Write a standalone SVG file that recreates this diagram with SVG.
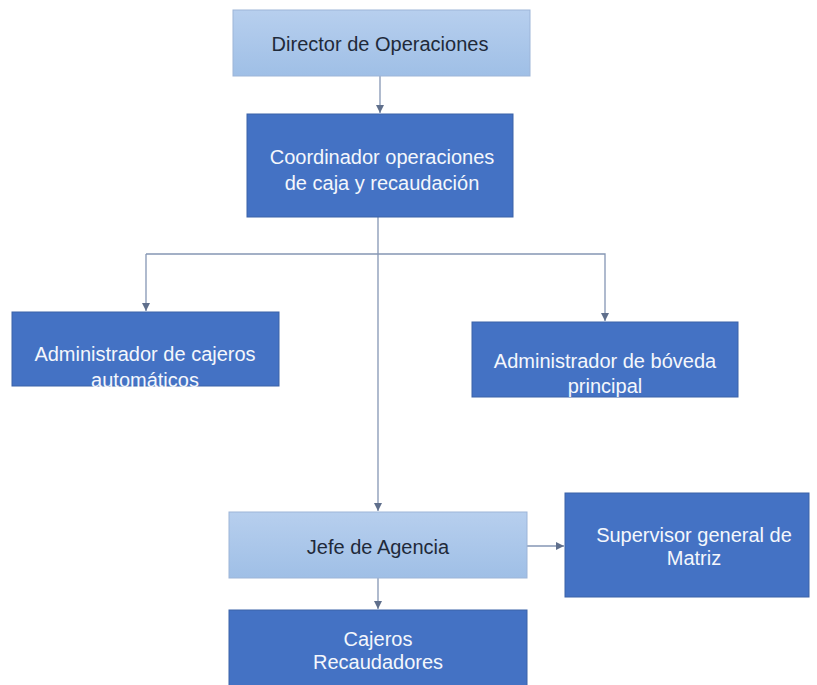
<svg xmlns="http://www.w3.org/2000/svg" width="817" height="685" viewBox="0 0 817 685">
<style>
.dark{fill:#4472C4;stroke:#3B62A8;stroke-width:1}
.light{fill:url(#lg);stroke:#9DB5D8;stroke-width:1}
text{font-family:"Liberation Sans",Arial,sans-serif;font-size:20px;text-anchor:middle}
.w{fill:#F4F7FC}
.k{fill:#1F2A3A}
.c{fill:none;stroke:#8596B4;stroke-width:1.3}
</style>
<defs>
<linearGradient id="lg" x1="0" y1="0" x2="0" y2="1">
<stop offset="0" stop-color="#B7CFEE"/>
<stop offset="1" stop-color="#9FBFE6"/>
</linearGradient>
<marker id="ah" markerWidth="10" markerHeight="10" refX="9" refY="5" orient="auto" markerUnits="userSpaceOnUse">
<path d="M1,1 L9,5 L1,9 Z" fill="#5F6F8C"/>
</marker>
</defs>
<g id="connectors">
<line class="c" x1="380" y1="76" x2="380" y2="113" marker-end="url(#ah)"/>
<line class="c" x1="378" y1="217" x2="378" y2="511" marker-end="url(#ah)"/>
<polyline class="c" points="146,254 605,254 605,321" marker-end="url(#ah)"/>
<line class="c" x1="146" y1="254" x2="146" y2="311" marker-end="url(#ah)"/>
<line class="c" x1="527" y1="546" x2="564" y2="546" marker-end="url(#ah)"/>
<line class="c" x1="378" y1="578" x2="378" y2="609" marker-end="url(#ah)"/>
</g>
<g id="director">
<rect class="light" x="233" y="10" width="297" height="66"/>
<text class="k" x="380" y="51">Director de Operaciones</text>
</g>
<g id="coordinador">
<rect class="dark" x="247" y="114" width="266" height="103"/>
<text class="w" x="382" y="164">Coordinador operaciones</text>
<text class="w" x="382" y="190">de caja y recaudación</text>
</g>
<g id="admin-cajeros">
<rect class="dark" x="12" y="312" width="267" height="74"/>
<text class="w" x="145" y="361">Administrador  de cajeros</text>
<text class="w" x="145" y="387">automáticos</text>
</g>
<g id="admin-boveda">
<rect class="dark" x="472" y="322" width="266" height="75"/>
<text class="w" x="605" y="368">Administrador  de bóveda</text>
<text class="w" x="605" y="393">principal</text>
</g>
<g id="jefe">
<rect class="light" x="229" y="512" width="298" height="66"/>
<text class="k" x="378" y="554">Jefe de Agencia</text>
</g>
<g id="supervisor">
<rect class="dark" x="565" y="493" width="244" height="104"/>
<text class="w" x="694" y="542">Supervisor general de</text>
<text class="w" x="694" y="565">Matriz</text>
</g>
<g id="cajeros">
<rect class="dark" x="229" y="610" width="298" height="80"/>
<text class="w" x="378" y="646">Cajeros</text>
<text class="w" x="378" y="669">Recaudadores</text>
</g>
</svg>
